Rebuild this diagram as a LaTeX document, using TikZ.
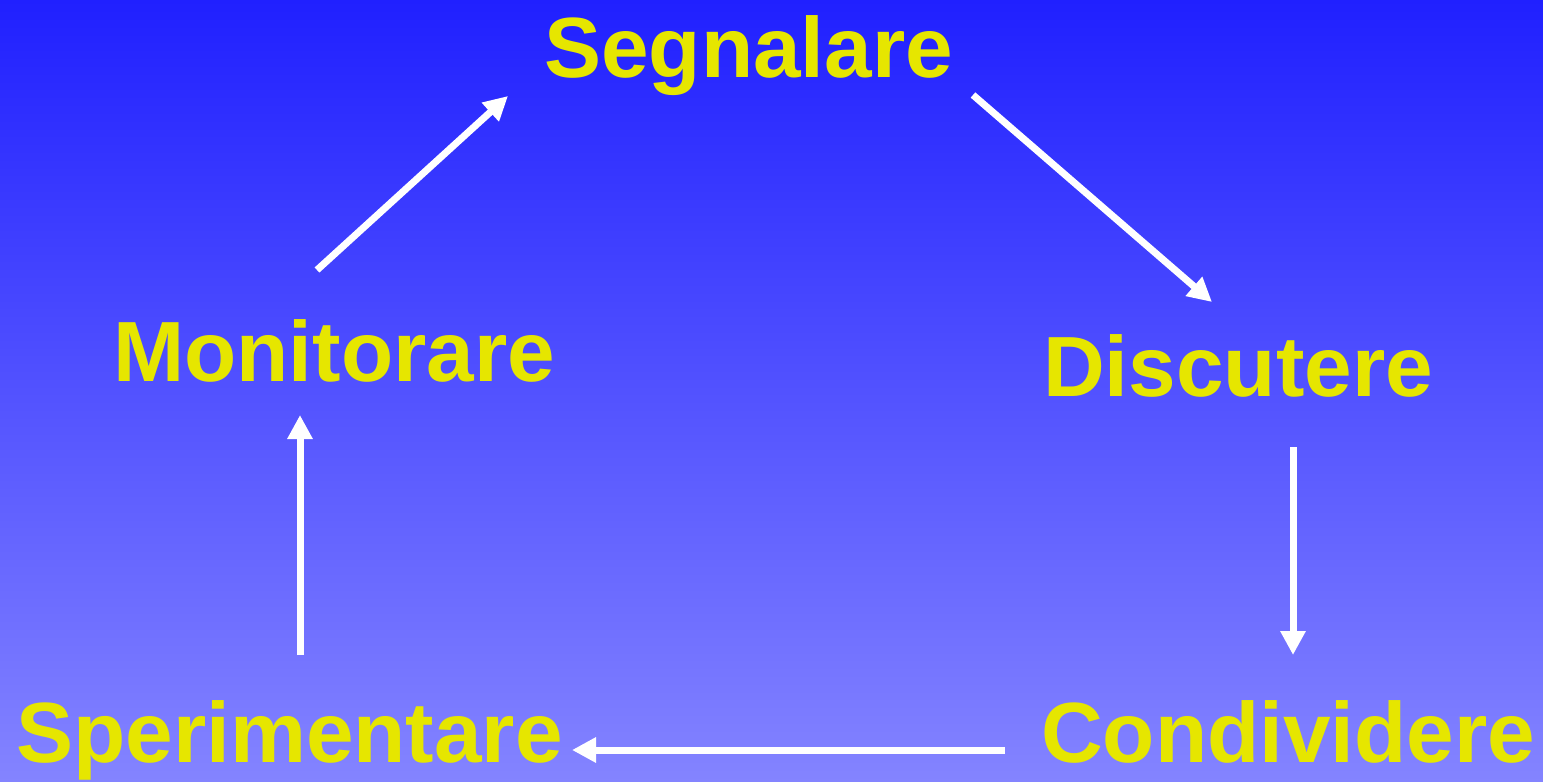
\documentclass[tikz,border=0pt]{standalone}
\usepackage{fontspec}
\setmainfont{Liberation Sans}
\usetikzlibrary{arrows.meta}
\definecolor{bgtop}{HTML}{2020FF}
\definecolor{bgbot}{HTML}{8484FF}
\definecolor{label}{HTML}{E6E600}
\begin{document}
\begin{tikzpicture}[x=1pt,y=-1pt,
  stage/.style={anchor=base west,inner sep=0pt,text=label,
    font=\bfseries\fontsize{85.5}{86}\selectfont},
  flow/.style={draw=white,line width=7pt,
    -{Triangle[length=24pt,width=24pt]}}]
  % background gradient
  \shade[top color=bgtop,bottom color=bgbot] (0,0) rectangle (1543,782);
  \useasboundingbox (0,0) rectangle (1543,782);

  % stages of the cycle
  \node[stage] (seg) at (544,77) {Segnalare};
  \node[stage] (dis) at (1043,396) {Discutere};
  \node[stage] (con) at (1041,762) {Condividere};
  \node[stage] (spe) at (16,762) {Sperimentare};
  \node[stage] (mon) at (113,381) {Monitorare};

  % arrow end points
  \coordinate (mon-out) at (317,270);
  \coordinate (seg-in)  at (508,96);
  \coordinate (seg-out) at (973,95);
  \coordinate (dis-in)  at (1212,302);
  \coordinate (dis-out) at (1293,447);
  \coordinate (con-in)  at (1293,655);
  \coordinate (con-out) at (1005,750);
  \coordinate (spe-in)  at (572,750);
  \coordinate (spe-out) at (300,655);
  \coordinate (mon-in)  at (300,415);

  % connectors
  \draw[flow] (mon-out) -- (seg-in);
  \draw[flow] (seg-out) -- (dis-in);
  \draw[flow] (dis-out) -- (con-in);
  \draw[flow] (con-out) -- (spe-in);
  \draw[flow] (spe-out) -- (mon-in);
\end{tikzpicture}
\end{document}
